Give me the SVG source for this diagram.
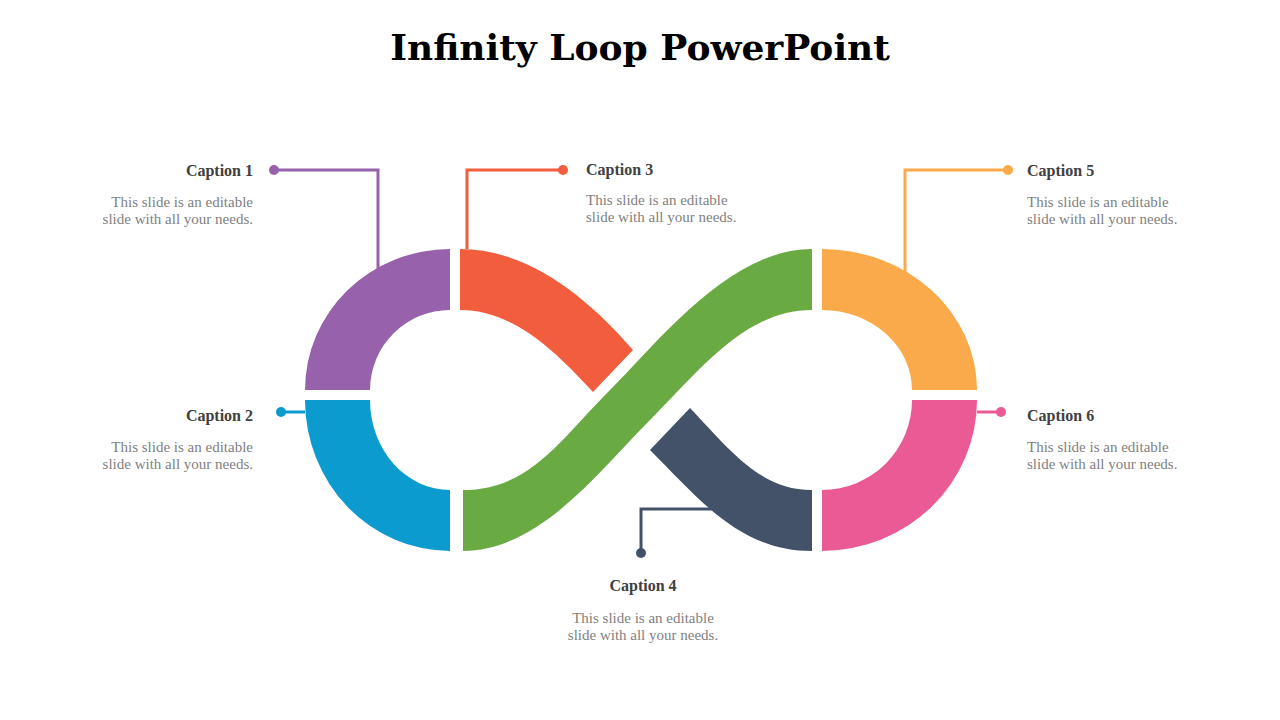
<svg xmlns="http://www.w3.org/2000/svg" width="1280" height="720" viewBox="0 0 1280 720">
<style>
.t{font-family:"DejaVu Serif","Liberation Serif",serif;font-weight:bold;font-size:36px;fill:#000}
.c{font-family:"Liberation Serif",serif;font-weight:bold;font-size:16px;fill:#404040}
.d{font-family:"Liberation Serif",serif;font-size:15px;fill:#7f7f7f}
.l{fill:none;stroke-width:3}
</style>
<rect width="1280" height="720" fill="#fff"/>
<text class="t" x="640" y="60" text-anchor="middle">Infinity Loop PowerPoint</text>
<g id="purple"><path d="M450,249 L450,310 A80,80 0 0 0 370,390 L305,390 A145,141 0 0 1 450,249 Z" fill="#9762AB"/></g>
<g id="blue"><path d="M450,551 L450,490 A80,90 0 0 1 370,400 L305,400 A145,151 0 0 0 450,551 Z" fill="#0B9BCF"/></g>
<g id="orange"><path d="M822,249 L822,310 A90,80 0 0 1 912,390 L977,390 A155,141 0 0 0 822,249 Z" fill="#FAAA4B"/></g>
<g id="pink"><path d="M822,551 L822,490 A90,90 0 0 0 912,400 L977,400 A155,151 0 0 1 822,551 Z" fill="#EA5B95"/></g>
<g id="green"><path d="M463,490 C530,490 560,440 610,390 S730,249 812,249 L812,310 C745,310 700,370 650,420 S540,551 463,551 Z" fill="#6AAA43"/></g>
<g id="red"><path d="M460,249 C530,249 590,300 633,350 L593,392 C550,345 510,310 460,310 Z" fill="#F15D3D"/></g>
<g id="dark"><path d="M690,408 C730,450 760,490 812,490 L812,551 C740,551 700,500 650,450 Z" fill="#435269"/></g>
<g id="connectors">
<polyline class="l" stroke="#9762AB" points="274,170 378,170 378,270"/><circle cx="274" cy="170" r="5" fill="#9762AB"/>
<polyline class="l" stroke="#F15D3D" points="563,170 467,170 467,249"/><circle cx="563" cy="170" r="5" fill="#F15D3D"/>
<polyline class="l" stroke="#FAAA4B" points="1008,170 905,170 905,272"/><circle cx="1008" cy="170" r="5" fill="#FAAA4B"/>
<polyline class="l" stroke="#0B9BCF" points="281,412 305,412"/><circle cx="281" cy="412" r="5" fill="#0B9BCF"/>
<polyline class="l" stroke="#EA5B95" points="1001,412 977,412"/><circle cx="1001" cy="412" r="5" fill="#EA5B95"/>
<polyline class="l" stroke="#435269" points="641,553 641,509 715,509"/><circle cx="641" cy="553" r="5" fill="#435269"/>
</g>
<g id="cap1"><text class="c" x="253" y="176" text-anchor="end">Caption 1</text><text class="d" x="253" y="207" text-anchor="end">This slide is an editable</text><text class="d" x="253" y="224" text-anchor="end">slide with all your needs.</text></g>
<g id="cap2"><text class="c" x="253" y="421" text-anchor="end">Caption 2</text><text class="d" x="253" y="452" text-anchor="end">This slide is an editable</text><text class="d" x="253" y="469" text-anchor="end">slide with all your needs.</text></g>
<g id="cap3"><text class="c" x="586" y="175">Caption 3</text><text class="d" x="586" y="205">This slide is an editable</text><text class="d" x="586" y="222">slide with all your needs.</text></g>
<g id="cap4"><text class="c" x="643" y="591" text-anchor="middle">Caption 4</text><text class="d" x="643" y="623" text-anchor="middle">This slide is an editable</text><text class="d" x="643" y="640" text-anchor="middle">slide with all your needs.</text></g>
<g id="cap5"><text class="c" x="1027" y="176">Caption 5</text><text class="d" x="1027" y="207">This slide is an editable</text><text class="d" x="1027" y="224">slide with all your needs.</text></g>
<g id="cap6"><text class="c" x="1027" y="421">Caption 6</text><text class="d" x="1027" y="452">This slide is an editable</text><text class="d" x="1027" y="469">slide with all your needs.</text></g>
</svg>
